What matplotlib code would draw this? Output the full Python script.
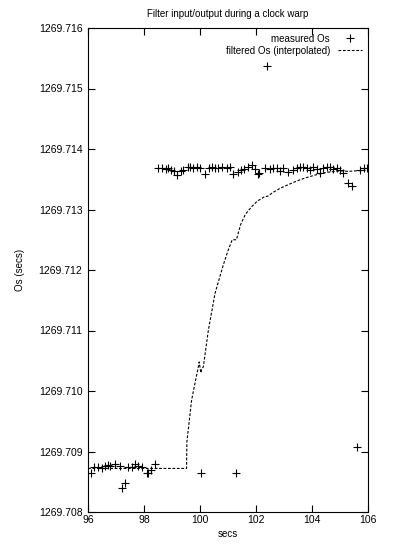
import matplotlib.pyplot as plt
import matplotlib.ticker as mticker

plt.rcParams['font.family'] = ['Liberation Sans', 'DejaVu Sans']

# measured offsets (secs)
meas_x = [96.11, 96.21, 96.37, 96.51, 96.61, 96.70, 96.79, 96.96, 97.14, 97.21, 97.32,
          97.44, 97.56, 97.68, 97.80, 97.92, 98.10, 98.15, 98.25, 98.39,
          98.51, 98.63, 98.77, 98.87, 98.96, 99.08, 99.19, 99.31, 99.40, 99.56,
          99.64, 99.76, 99.88, 100.00, 100.05, 100.18, 100.32, 100.42, 100.54, 100.65,
          100.77, 100.95, 101.07, 101.19, 101.30, 101.35, 101.46, 101.58, 101.73, 101.85,
          101.96, 102.08, 102.11, 102.32, 102.39, 102.50, 102.62, 102.74, 102.86, 102.98,
          103.15, 103.33, 103.45, 103.57, 103.69, 103.81, 103.93, 104.05, 104.17, 104.29,
          104.40, 104.52, 104.64, 104.76, 104.88, 105.00, 105.12, 105.30, 105.42, 105.60,
          105.72, 105.84, 105.95]
meas_y = [1269.70864, 1269.70874, 1269.70874, 1269.70873, 1269.70876, 1269.70877, 1269.70876,
          1269.70880, 1269.70876, 1269.70840, 1269.70848,
          1269.70874, 1269.70875, 1269.70879, 1269.70876, 1269.70875, 1269.70865, 1269.70864,
          1269.70870, 1269.70879,
          1269.71368, 1269.71368, 1269.71367, 1269.71369, 1269.71366, 1269.71364, 1269.71357,
          1269.71363, 1269.71365, 1269.71371, 1269.71370, 1269.71369, 1269.71370, 1269.71369,
          1269.70865, 1269.71359, 1269.71369, 1269.71370, 1269.71368, 1269.71369, 1269.71371,
          1269.71368, 1269.71371, 1269.71359, 1269.70865, 1269.71362, 1269.71366, 1269.71367,
          1269.71370, 1269.71374, 1269.71367, 1269.71358, 1269.71360, 1269.71368, 1269.71537,
          1269.71367, 1269.71369, 1269.71368, 1269.71364, 1269.71369, 1269.71362, 1269.71366,
          1269.71368, 1269.71371, 1269.71370, 1269.71369, 1269.71365, 1269.71371, 1269.71367,
          1269.71360, 1269.71368, 1269.71371, 1269.71370, 1269.71367, 1269.71369, 1269.71366,
          1269.71360, 1269.71343, 1269.71339, 1269.70908, 1269.71366, 1269.71369, 1269.71369]

# filtered offsets (interpolated)
filt_x = [96.0, 99.52, 99.53, 99.70, 99.94, 99.97, 100.03, 100.06, 100.12, 100.30, 100.54,
          100.83, 101.00, 101.15, 101.30, 101.45, 101.62, 101.85, 102.05, 102.30, 102.42,
          102.60, 102.86, 103.15, 103.45, 103.75, 104.04, 104.35, 104.64, 105.00, 105.30,
          105.60, 106.0]
filt_y = [1269.70872, 1269.70872, 1269.70915, 1269.70985, 1269.71040, 1269.71048, 1269.71030,
          1269.71036, 1269.71040, 1269.71101, 1269.71162, 1269.71208, 1269.71232, 1269.71250,
          1269.71250, 1269.71275, 1269.71292, 1269.71305, 1269.71314, 1269.71321, 1269.71322,
          1269.71328, 1269.71335, 1269.71341, 1269.71347, 1269.71352, 1269.71356, 1269.71360,
          1269.71362, 1269.71364, 1269.71363, 1269.71364, 1269.71365]

fig = plt.figure(figsize=(3.97, 5.46), dpi=100)
ax = fig.add_axes([88/397, 1 - 512/546, 280/397, 484/546])

ax.plot(meas_x, meas_y, '+', color='black', markersize=6, markeredgewidth=0.8,
        label='measured Os')
ax.plot(filt_x, filt_y, color='black', linewidth=0.8, linestyle=(0, (2.5, 1.5)),
        label='filtered Os (interpolated)')

ax.set_xlim(96, 106)
ax.set_ylim(1269.708, 1269.716)
ax.set_xticks([96, 98, 100, 102, 104, 106])
ax.set_yticks([1269.708, 1269.709, 1269.710, 1269.711, 1269.712, 1269.713,
               1269.714, 1269.715, 1269.716])
ax.yaxis.set_major_formatter(mticker.FormatStrFormatter('%.3f'))
ax.tick_params(direction='in', length=5, width=0.8, labelsize=7.5,
               top=True, right=True, pad=4)
ax.tick_params(axis='x', pad=2)
for s in ax.spines.values():
    s.set_linewidth(0.8)

ax.set_title('Filter input/output during a clock warp', fontsize=7, pad=8)
ax.set_xlabel('secs', fontsize=7, labelpad=3)
ax.set_ylabel('Os (secs)', fontsize=7, labelpad=10)

leg = ax.legend(loc='upper right', frameon=False, fontsize=7, markerfirst=False,
                handlelength=2.5, borderaxespad=0.2, labelspacing=0.2)
for t in leg.get_texts():
    t.set_ha('right')

fig.savefig('out.png', dpi=100)
